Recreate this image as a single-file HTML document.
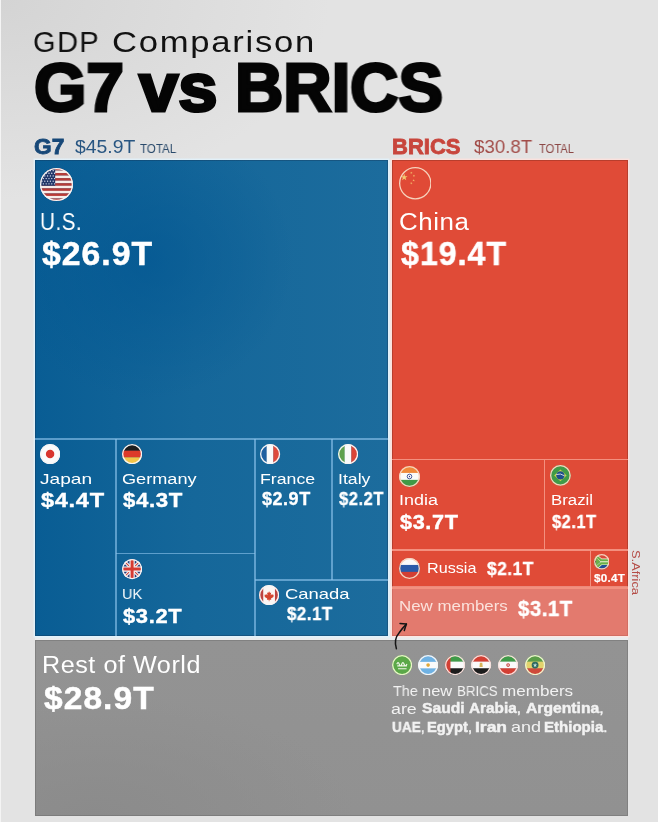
<!DOCTYPE html><html><head><meta charset="utf-8"><style>
html,body{margin:0;padding:0}
body{width:658px;height:822px;position:relative;overflow:hidden;background:#e2e2e2;font-family:"Liberation Sans",sans-serif}
.bg{position:absolute;left:0;top:0;width:658px;height:822px;background:radial-gradient(ellipse 330px 200px at 0 0,#d4d4d4,rgba(227,227,227,0)),#e3e3e3}
.r{position:absolute}
.t{position:absolute;white-space:nowrap;transform-origin:0 0;will-change:transform}
b{font-weight:700}
</style></head><body><div class="bg"></div>

<div class="r" style="left:0px;top:0px;width:1px;height:822px;background:#f4f4f4;"></div>
<div class="r" style="left:388px;top:160px;width:4px;height:476px;background:#eee;background:linear-gradient(90deg,#d6ecf8,#ececec 50%,#f9dcd8)"></div>
<div class="r" style="left:35px;top:636px;width:593px;height:4px;background:#eee;background:linear-gradient(180deg,#e2eef4,#ececec)"></div>
<div class="r" style="left:35px;top:160px;width:353px;height:476px;background:#1e66a0;background:radial-gradient(ellipse 150px 140px at 110px 100px,rgba(0,85,145,0.6),rgba(0,85,145,0)),linear-gradient(90deg,#095d94 0%,#15679a 45%,#1c6c9d 100%);box-shadow:inset 0 0 0 1px rgba(20,50,80,0.35),0 0 0 1.5px rgba(225,242,252,0.8)"></div>
<div class="r" style="left:392px;top:160px;width:236px;height:428px;background:#e04b37;box-shadow:inset 0 0 0 1px rgba(110,40,30,0.35),0 0 0 1.5px rgba(255,225,220,0.8)"></div>
<div class="r" style="left:392px;top:588px;width:236px;height:48px;background:#e37a6e;box-shadow:inset 0 0 0 1px rgba(150,60,50,0.2),0 0 0 1.5px rgba(255,230,225,0.8)"></div>
<div class="r" style="left:35px;top:640px;width:593px;height:176px;background:#8e8e8e;background:radial-gradient(ellipse 260px 120px at 60px 176px,#8b8b8b,rgba(146,146,146,0)),linear-gradient(180deg,#939393,#919191);box-shadow:inset 0 0 0 1px rgba(60,60,60,0.2)"></div>
<div class="r" style="left:35px;top:438.25px;width:353px;height:1.5px;background:rgba(140,195,235,0.62);"></div>
<div class="r" style="left:115.25px;top:439px;width:1.5px;height:197px;background:rgba(140,195,235,0.62);"></div>
<div class="r" style="left:254.25px;top:439px;width:1.5px;height:197px;background:rgba(140,195,235,0.62);"></div>
<div class="r" style="left:116px;top:552.75px;width:139px;height:1.5px;background:rgba(140,195,235,0.62);"></div>
<div class="r" style="left:331.25px;top:439px;width:1.5px;height:141px;background:rgba(140,195,235,0.62);"></div>
<div class="r" style="left:255px;top:579.25px;width:133px;height:1.5px;background:rgba(140,195,235,0.62);"></div>
<div class="r" style="left:392px;top:458.75px;width:236px;height:1.5px;background:#f3907f;"></div>
<div class="r" style="left:543.75px;top:459.5px;width:1.5px;height:90.5px;background:#f3907f;"></div>
<div class="r" style="left:392px;top:549.25px;width:236px;height:1.5px;background:#f3907f;"></div>
<div class="r" style="left:589.65px;top:550px;width:1.5px;height:38px;background:#f3907f;"></div>
<div class="r" style="left:392px;top:587.25px;width:236px;height:1.5px;background:#f3907f;"></div>
<svg style="position:absolute;left:39.90px;top:167.60px" width="33.00" height="33.00" viewBox="0 0 100 100"><defs><clipPath id="c1"><circle cx="50" cy="50" r="50"/></clipPath></defs><g clip-path="url(#c1)"><rect x="0" y="0.00" width="100" height="7.99" fill="#b93a35"/><rect x="0" y="7.69" width="100" height="7.99" fill="#f7ece8"/><rect x="0" y="15.38" width="100" height="7.99" fill="#b93a35"/><rect x="0" y="23.08" width="100" height="7.99" fill="#f7ece8"/><rect x="0" y="30.77" width="100" height="7.99" fill="#b93a35"/><rect x="0" y="38.46" width="100" height="7.99" fill="#f7ece8"/><rect x="0" y="46.15" width="100" height="7.99" fill="#b93a35"/><rect x="0" y="53.85" width="100" height="7.99" fill="#f7ece8"/><rect x="0" y="61.54" width="100" height="7.99" fill="#b93a35"/><rect x="0" y="69.23" width="100" height="7.99" fill="#f7ece8"/><rect x="0" y="76.92" width="100" height="7.99" fill="#b93a35"/><rect x="0" y="84.62" width="100" height="7.99" fill="#f7ece8"/><rect x="0" y="92.31" width="100" height="7.99" fill="#b93a35"/><rect x="0" y="0" width="46" height="53.8" fill="#22386a"/><circle cx="6.0" cy="8.0" r="2" fill="#e8eef8"/><circle cx="14.5" cy="8.0" r="2" fill="#e8eef8"/><circle cx="23.0" cy="8.0" r="2" fill="#e8eef8"/><circle cx="31.5" cy="8.0" r="2" fill="#e8eef8"/><circle cx="40.0" cy="8.0" r="2" fill="#e8eef8"/><circle cx="10.2" cy="16.0" r="2" fill="#e8eef8"/><circle cx="18.7" cy="16.0" r="2" fill="#e8eef8"/><circle cx="27.2" cy="16.0" r="2" fill="#e8eef8"/><circle cx="35.7" cy="16.0" r="2" fill="#e8eef8"/><circle cx="44.2" cy="16.0" r="2" fill="#e8eef8"/><circle cx="6.0" cy="24.0" r="2" fill="#e8eef8"/><circle cx="14.5" cy="24.0" r="2" fill="#e8eef8"/><circle cx="23.0" cy="24.0" r="2" fill="#e8eef8"/><circle cx="31.5" cy="24.0" r="2" fill="#e8eef8"/><circle cx="40.0" cy="24.0" r="2" fill="#e8eef8"/><circle cx="10.2" cy="32.0" r="2" fill="#e8eef8"/><circle cx="18.7" cy="32.0" r="2" fill="#e8eef8"/><circle cx="27.2" cy="32.0" r="2" fill="#e8eef8"/><circle cx="35.7" cy="32.0" r="2" fill="#e8eef8"/><circle cx="44.2" cy="32.0" r="2" fill="#e8eef8"/><circle cx="6.0" cy="40.0" r="2" fill="#e8eef8"/><circle cx="14.5" cy="40.0" r="2" fill="#e8eef8"/><circle cx="23.0" cy="40.0" r="2" fill="#e8eef8"/><circle cx="31.5" cy="40.0" r="2" fill="#e8eef8"/><circle cx="40.0" cy="40.0" r="2" fill="#e8eef8"/><circle cx="10.2" cy="48.0" r="2" fill="#e8eef8"/><circle cx="18.7" cy="48.0" r="2" fill="#e8eef8"/><circle cx="27.2" cy="48.0" r="2" fill="#e8eef8"/><circle cx="35.7" cy="48.0" r="2" fill="#e8eef8"/><circle cx="44.2" cy="48.0" r="2" fill="#e8eef8"/></g><circle cx="50" cy="50" r="48.03" fill="none" stroke="#f5f5f5" stroke-width="3.94"/></svg>
<svg style="position:absolute;left:398.75px;top:167.35px" width="32.50" height="32.50" viewBox="0 0 100 100"><defs><clipPath id="c2"><circle cx="50" cy="50" r="50"/></clipPath></defs><g clip-path="url(#c2)"><rect width="100" height="100" fill="#e04a36"/><polygon points="16.00,21.00 18.59,28.44 26.46,28.60 20.18,33.36 22.47,40.90 16.00,36.40 9.53,40.90 11.82,33.36 5.54,28.60 13.41,28.44" fill="#f2c870"/><polygon points="39.37,14.24 39.33,17.11 42.00,18.14 39.26,18.99 39.10,21.85 37.45,19.50 34.68,20.24 36.40,17.94 34.85,15.54 37.56,16.46" fill="#f2b868"/><polygon points="48.57,23.94 47.55,26.61 49.71,28.50 46.85,28.36 45.72,30.99 44.97,28.23 42.12,27.97 44.52,26.40 43.88,23.61 46.11,25.40" fill="#f2b868"/><polygon points="45.00,37.00 45.94,39.71 48.80,39.76 46.52,41.49 47.35,44.24 45.00,42.60 42.65,44.24 43.48,41.49 41.20,39.76 44.06,39.71" fill="#f2b868"/><polygon points="39.37,46.24 39.33,49.11 42.00,50.14 39.26,50.99 39.10,53.85 37.45,51.50 34.68,52.24 36.40,49.94 34.85,47.54 37.56,48.46" fill="#f2b868"/></g><circle cx="50" cy="50" r="48.00" fill="none" stroke="#f6d3bd" stroke-width="4.00"/></svg>
<svg style="position:absolute;left:40.10px;top:443.90px" width="20.20" height="20.20" viewBox="0 0 100 100"><defs><clipPath id="c3"><circle cx="50" cy="50" r="50"/></clipPath></defs><g clip-path="url(#c3)"><rect width="100" height="100" fill="#fbfbfb"/><circle cx="50" cy="50" r="21" fill="#d9362e"/></g><circle cx="50" cy="50" r="46.78" fill="none" stroke="#f5f5f5" stroke-width="6.44"/></svg>
<svg style="position:absolute;left:121.70px;top:443.50px" width="20.20" height="20.20" viewBox="0 0 100 100"><defs><clipPath id="c4"><circle cx="50" cy="50" r="50"/></clipPath></defs><g clip-path="url(#c4)"><rect width="100" height="34" fill="#1d1d1d"/><rect y="33" width="100" height="34" fill="#dc3a2a"/><rect y="66" width="100" height="34" fill="#f3c548"/></g><circle cx="50" cy="50" r="46.78" fill="none" stroke="#f5f5f5" stroke-width="6.44"/></svg>
<svg style="position:absolute;left:260.40px;top:443.50px" width="20.20" height="20.20" viewBox="0 0 100 100"><defs><clipPath id="c5"><circle cx="50" cy="50" r="50"/></clipPath></defs><g clip-path="url(#c5)"><rect width="34" height="100" fill="#1f5fa0"/><rect x="33" width="34" height="100" fill="#fafafa"/><rect x="66" width="34" height="100" fill="#de4a3c"/></g><circle cx="50" cy="50" r="46.78" fill="none" stroke="#f5f5f5" stroke-width="6.44"/></svg>
<svg style="position:absolute;left:338.30px;top:443.50px" width="20.20" height="20.20" viewBox="0 0 100 100"><defs><clipPath id="c6"><circle cx="50" cy="50" r="50"/></clipPath></defs><g clip-path="url(#c6)"><rect width="34" height="100" fill="#5fa14d"/><rect x="33" width="34" height="100" fill="#fafafa"/><rect x="66" width="34" height="100" fill="#d94537"/></g><circle cx="50" cy="50" r="46.78" fill="none" stroke="#f5f5f5" stroke-width="6.44"/></svg>
<svg style="position:absolute;left:121.90px;top:559.40px" width="20.20" height="20.20" viewBox="0 0 100 100"><defs><clipPath id="c7"><circle cx="50" cy="50" r="50"/></clipPath></defs><g clip-path="url(#c7)"><rect width="100" height="100" fill="#253a78"/><path d="M0 0L100 100M100 0L0 100" stroke="#f5f5f5" stroke-width="16"/><path d="M0 0L100 100M100 0L0 100" stroke="#cf3b36" stroke-width="5"/><path d="M50 0V100M0 50H100" stroke="#f7f7f7" stroke-width="26"/><path d="M50 0V100M0 50H100" stroke="#d63a32" stroke-width="15"/></g><circle cx="50" cy="50" r="46.78" fill="none" stroke="#f5f5f5" stroke-width="6.44"/></svg>
<svg style="position:absolute;left:258.90px;top:584.90px" width="20.20" height="20.20" viewBox="0 0 100 100"><defs><clipPath id="c8"><circle cx="50" cy="50" r="50"/></clipPath></defs><g clip-path="url(#c8)"><rect width="100" height="100" fill="#fbf6f4"/><rect width="21" height="100" fill="#bd4440"/><rect x="79" width="21" height="100" fill="#bd4440"/><path transform="translate(50 54) scale(0.78) translate(-50 -54)" d="M50 24L56 36L63 33L60 50L70 42L73 48L81 47L76 57L80 60L62 70L64 78H52V88H48V78H36L38 70L20 60L24 57L19 47L27 48L30 42L40 50L37 33L44 36Z" fill="#d4452f"/></g><circle cx="50" cy="50" r="46.78" fill="none" stroke="#f5f5f5" stroke-width="6.44"/></svg>
<svg style="position:absolute;left:398.50px;top:465.50px" width="21.00" height="21.00" viewBox="0 0 100 100"><defs><clipPath id="c9"><circle cx="50" cy="50" r="50"/></clipPath></defs><g clip-path="url(#c9)"><rect width="100" height="34" fill="#f08a3a"/><rect y="33" width="100" height="34" fill="#fbfbf8"/><rect y="66" width="100" height="34" fill="#3f9a46"/><circle cx="50" cy="50" r="11" fill="none" stroke="#2a3d8a" stroke-width="4"/><circle cx="50" cy="50" r="3" fill="#2a3d8a"/></g><circle cx="50" cy="50" r="46.90" fill="none" stroke="#f6d3bd" stroke-width="6.19"/></svg>
<svg style="position:absolute;left:550.20px;top:465.20px" width="20.80" height="20.80" viewBox="0 0 100 100"><defs><clipPath id="c10"><circle cx="50" cy="50" r="50"/></clipPath></defs><g clip-path="url(#c10)"><rect width="100" height="100" fill="#3f9b48"/><path d="M50 22L80 50L50 78L20 50Z" fill="#c9d24a"/><circle cx="50" cy="50" r="20" fill="#1e4e8c"/><path d="M30 46Q50 38 70 52" stroke="#f2f2f2" stroke-width="4" fill="none"/></g><circle cx="50" cy="50" r="46.88" fill="none" stroke="#f6d3bd" stroke-width="6.25"/></svg>
<svg style="position:absolute;left:398.50px;top:557.50px" width="21.00" height="21.00" viewBox="0 0 100 100"><defs><clipPath id="c11"><circle cx="50" cy="50" r="50"/></clipPath></defs><g clip-path="url(#c11)"><rect width="100" height="34" fill="#fafafa"/><rect y="33" width="100" height="34" fill="#2a5aa8"/><rect y="66" width="100" height="34" fill="#d33f33"/></g><circle cx="50" cy="50" r="46.90" fill="none" stroke="#f6d3bd" stroke-width="6.19"/></svg>
<svg style="position:absolute;left:593.70px;top:554.20px" width="15.60" height="15.60" viewBox="0 0 100 100"><defs><clipPath id="c12"><circle cx="50" cy="50" r="50"/></clipPath></defs><g clip-path="url(#c12)"><rect width="100" height="50" fill="#d8493a"/><rect y="50" width="100" height="50" fill="#1f4e98"/><path d="M0 0L45 40H100V60H45L0 100" fill="none" stroke="#eef4d8" stroke-width="22"/><path d="M0 0L45 40H100V60H45L0 100" fill="none" stroke="#6bb04a" stroke-width="14"/><path d="M0 10L40 50L0 90Z" fill="#6bb04a"/><path d="M0 34L14 50L0 66Z" fill="#1a1a1a"/></g><circle cx="50" cy="50" r="45.83" fill="none" stroke="#f6d3bd" stroke-width="8.33"/></svg>
<svg style="position:absolute;left:391.70px;top:654.50px" width="20.20" height="20.20" viewBox="0 0 100 100"><defs><clipPath id="c13"><circle cx="50" cy="50" r="50"/></clipPath></defs><g clip-path="url(#c13)"><rect width="100" height="100" fill="#5aa848"/><path d="M24 46Q30 30 36 46T48 46T60 46T74 44M26 54H74" stroke="#eef5e6" stroke-width="6" fill="none"/><path d="M30 68H72" stroke="#eef5e6" stroke-width="5"/></g><circle cx="50" cy="50" r="46.78" fill="none" stroke="#e9f5c8" stroke-width="6.44"/></svg>
<svg style="position:absolute;left:418.20px;top:654.50px" width="20.20" height="20.20" viewBox="0 0 100 100"><defs><clipPath id="c14"><circle cx="50" cy="50" r="50"/></clipPath></defs><g clip-path="url(#c14)"><rect width="100" height="100" fill="#6fb2e4"/><rect y="34" width="100" height="32" fill="#fafafa"/><circle cx="50" cy="50" r="9" fill="#e0a83a"/></g><circle cx="50" cy="50" r="46.78" fill="none" stroke="#f5f5f5" stroke-width="6.44"/></svg>
<svg style="position:absolute;left:444.90px;top:654.50px" width="20.20" height="20.20" viewBox="0 0 100 100"><defs><clipPath id="c15"><circle cx="50" cy="50" r="50"/></clipPath></defs><g clip-path="url(#c15)"><rect width="100" height="34" fill="#3f9b48"/><rect y="33" width="100" height="34" fill="#fafafa"/><rect y="66" width="100" height="34" fill="#1c1c1c"/><rect width="27" height="100" fill="#d33f33"/></g><circle cx="50" cy="50" r="46.78" fill="none" stroke="#f5e0dc" stroke-width="6.44"/></svg>
<svg style="position:absolute;left:471.40px;top:654.50px" width="20.20" height="20.20" viewBox="0 0 100 100"><defs><clipPath id="c16"><circle cx="50" cy="50" r="50"/></clipPath></defs><g clip-path="url(#c16)"><rect width="100" height="34" fill="#d33f33"/><rect y="33" width="100" height="34" fill="#fafafa"/><rect y="66" width="100" height="34" fill="#1c1c1c"/><path d="M44 38H56L58 60H42Z" fill="#d7b45a"/></g><circle cx="50" cy="50" r="46.78" fill="none" stroke="#f5e0dc" stroke-width="6.44"/></svg>
<svg style="position:absolute;left:497.90px;top:654.50px" width="20.20" height="20.20" viewBox="0 0 100 100"><defs><clipPath id="c17"><circle cx="50" cy="50" r="50"/></clipPath></defs><g clip-path="url(#c17)"><rect width="100" height="34" fill="#3f9b48"/><rect y="33" width="100" height="34" fill="#fafafa"/><rect y="66" width="100" height="34" fill="#d33f33"/><circle cx="50" cy="50" r="9" fill="#c8403a"/><circle cx="50" cy="50" r="4" fill="#fafafa"/></g><circle cx="50" cy="50" r="46.78" fill="none" stroke="#f8e0dc" stroke-width="6.44"/></svg>
<svg style="position:absolute;left:524.90px;top:654.50px" width="20.20" height="20.20" viewBox="0 0 100 100"><defs><clipPath id="c18"><circle cx="50" cy="50" r="50"/></clipPath></defs><g clip-path="url(#c18)"><rect width="100" height="34" fill="#5a9d48"/><rect y="33" width="100" height="34" fill="#e2d36c"/><rect y="66" width="100" height="34" fill="#cf4a3a"/><circle cx="50" cy="50" r="17" fill="#2f6a62"/><polygon points="50.00,40.00 52.59,47.44 60.46,47.60 54.18,52.36 56.47,59.90 50.00,55.40 43.53,59.90 45.82,52.36 39.54,47.60 47.41,47.44" fill="#c8e6e0"/></g><circle cx="50" cy="50" r="46.78" fill="none" stroke="#eef5d0" stroke-width="6.44"/></svg>
<div class="t" style="left:33.07px;top:12.00px;font-size:30.088px;line-height:60px;font-weight:400;color:#121212;letter-spacing:1.5px;transform:scaleX(0.9646)">GDP</div>
<div class="t" style="left:111.60px;top:12.00px;font-size:30.088px;line-height:60px;font-weight:400;color:#121212;letter-spacing:1.5px;transform:scaleX(1.1517)">Comparison</div>
<div class="t" style="left:33.81px;top:19.00px;font-size:68.315px;line-height:136px;font-weight:700;color:#050505;-webkit-text-stroke:3.0px #050505;letter-spacing:0px;transform:scaleX(0.9875)">G7</div>
<div class="t" style="left:138.64px;top:19.00px;font-size:68.315px;line-height:136px;font-weight:700;color:#050505;-webkit-text-stroke:3.0px #050505;letter-spacing:0px;transform:scaleX(1.0355)">vs</div>
<div class="t" style="left:234.96px;top:19.00px;font-size:68.315px;line-height:136px;font-weight:700;color:#050505;-webkit-text-stroke:3.0px #050505;letter-spacing:0px;transform:scaleX(0.9788)">BRICS</div>
<div class="t" style="left:33.57px;top:125.10px;font-size:22.093px;line-height:44px;font-weight:700;color:#174878;-webkit-text-stroke:0.8px #174878;letter-spacing:0px;transform:scaleX(1.0286)">G7</div>
<div class="t" style="left:75.10px;top:128.00px;font-size:18.896px;line-height:37px;font-weight:400;color:#285682;letter-spacing:0px;transform:scaleX(1.0259)">$45.9T</div>
<div class="t" style="left:140.00px;top:137.30px;font-size:12.355px;line-height:24px;font-weight:400;color:#2a4a6b;letter-spacing:0px;transform:scaleX(0.9368)">TOTAL</div>
<div class="t" style="left:391.88px;top:125.60px;font-size:21.512px;line-height:43px;font-weight:700;color:#c8453c;-webkit-text-stroke:0.8px #c8453c;letter-spacing:0px;transform:scaleX(1.0246)">BRICS</div>
<div class="t" style="left:474.00px;top:128.00px;font-size:18.896px;line-height:37px;font-weight:400;color:#a24c48;letter-spacing:0px;transform:scaleX(0.9897)">$30.8T</div>
<div class="t" style="left:539.00px;top:137.30px;font-size:12.355px;line-height:24px;font-weight:400;color:#8c4846;letter-spacing:0px;transform:scaleX(0.9053)">TOTAL</div>
<div class="t" style="left:40.10px;top:197.80px;font-size:24.419px;line-height:48px;font-weight:400;color:#ffffff;letter-spacing:0.5px;transform:scaleX(0.8489)">U.S.</div>
<div class="t" style="left:41.80px;top:221.25px;font-size:32.995px;line-height:65px;font-weight:700;color:#ffffff;-webkit-text-stroke:0.5px #ffffff;letter-spacing:1.0px;transform:scaleX(1.0222)">$26.9T</div>
<div class="t" style="left:399.42px;top:197.80px;font-size:23.983px;line-height:47px;font-weight:400;color:#ffffff;letter-spacing:0.5px;transform:scaleX(1.0812)">China</div>
<div class="t" style="left:400.50px;top:221.05px;font-size:32.704px;line-height:65px;font-weight:700;color:#ffffff;-webkit-text-stroke:0.5px #ffffff;letter-spacing:1.0px;transform:scaleX(0.9841)">$19.4T</div>
<div class="t" style="left:39.92px;top:464.10px;font-size:14.971px;line-height:29px;font-weight:400;color:#ffffff;letter-spacing:0px;transform:scaleX(1.2769)">Japan</div>
<div class="t" style="left:41.00px;top:480.20px;font-size:20.349px;line-height:40px;font-weight:700;color:#ffffff;-webkit-text-stroke:0.4px #ffffff;letter-spacing:0.6px;transform:scaleX(1.1600)">$4.4T</div>
<div class="t" style="left:121.58px;top:464.80px;font-size:14.826px;line-height:29px;font-weight:400;color:#ffffff;letter-spacing:0px;transform:scaleX(1.2233)">Germany</div>
<div class="t" style="left:122.80px;top:480.20px;font-size:20.349px;line-height:40px;font-weight:700;color:#ffffff;-webkit-text-stroke:0.4px #ffffff;letter-spacing:0.6px;transform:scaleX(1.0927)">$4.3T</div>
<div class="t" style="left:260.29px;top:464.90px;font-size:14.680px;line-height:29px;font-weight:400;color:#ffffff;letter-spacing:0px;transform:scaleX(1.2068)">France</div>
<div class="t" style="left:261.50px;top:480.55px;font-size:18.024px;line-height:36px;font-weight:700;color:#ffffff;-webkit-text-stroke:0.3px #ffffff;letter-spacing:0.5px;transform:scaleX(1.0021)">$2.9T</div>
<div class="t" style="left:337.70px;top:464.90px;font-size:14.680px;line-height:29px;font-weight:400;color:#ffffff;letter-spacing:0px;transform:scaleX(1.2038)">Italy</div>
<div class="t" style="left:338.90px;top:480.55px;font-size:18.024px;line-height:36px;font-weight:700;color:#ffffff;-webkit-text-stroke:0.3px #ffffff;letter-spacing:0.5px;transform:scaleX(0.9271)">$2.2T</div>
<div class="t" style="left:121.86px;top:578.40px;font-size:15.553px;line-height:31px;font-weight:400;color:#ffffff;letter-spacing:0px;transform:scaleX(0.9350)">UK</div>
<div class="t" style="left:122.80px;top:595.70px;font-size:20.349px;line-height:40px;font-weight:700;color:#ffffff;-webkit-text-stroke:0.4px #ffffff;letter-spacing:0.6px;transform:scaleX(1.0782)">$3.2T</div>
<div class="t" style="left:285.07px;top:578.80px;font-size:14.971px;line-height:29px;font-weight:400;color:#ffffff;letter-spacing:0px;transform:scaleX(1.2294)">Canada</div>
<div class="t" style="left:287.30px;top:597.25px;font-size:17.733px;line-height:35px;font-weight:700;color:#ffffff;-webkit-text-stroke:0.3px #ffffff;letter-spacing:0.5px;transform:scaleX(0.9553)">$2.1T</div>
<div class="t" style="left:398.82px;top:484.50px;font-size:15.262px;line-height:30px;font-weight:400;color:#ffffff;letter-spacing:0px;transform:scaleX(1.1781)">India</div>
<div class="t" style="left:400.00px;top:500.80px;font-size:20.640px;line-height:41px;font-weight:700;color:#ffffff;-webkit-text-stroke:0.4px #ffffff;letter-spacing:0.6px;transform:scaleX(1.0509)">$3.7T</div>
<div class="t" style="left:550.91px;top:484.70px;font-size:15.407px;line-height:30px;font-weight:400;color:#ffffff;letter-spacing:0px;transform:scaleX(1.0917)">Brazil</div>
<div class="t" style="left:552.00px;top:502.85px;font-size:19.041px;line-height:38px;font-weight:700;color:#ffffff;-webkit-text-stroke:0.3px #ffffff;letter-spacing:0.5px;transform:scaleX(0.8706)">$2.1T</div>
<div class="t" style="left:426.62px;top:552.80px;font-size:14.971px;line-height:29px;font-weight:400;color:#ffffff;letter-spacing:0px;transform:scaleX(1.0800)">Russia</div>
<div class="t" style="left:487.30px;top:552.35px;font-size:17.878px;line-height:35px;font-weight:700;color:#ffffff;-webkit-text-stroke:0.3px #ffffff;letter-spacing:0.5px;transform:scaleX(0.9729)">$2.1T</div>
<div class="t" style="left:594.00px;top:566.30px;font-size:11.628px;line-height:23px;font-weight:700;color:#ffffff;-webkit-text-stroke:0.2px #ffffff;letter-spacing:0.3px;transform:scaleX(1.0032)">$0.4T</div>
<div class="t" style="left:399.26px;top:591.80px;font-size:14.826px;line-height:29px;font-weight:400;color:#fbe2dc;letter-spacing:0px;transform:scaleX(1.1394)">New members</div>
<div class="t" style="left:518.10px;top:586.40px;font-size:22.675px;line-height:45px;font-weight:700;color:#ffffff;-webkit-text-stroke:0.4px #ffffff;letter-spacing:0.6px;transform:scaleX(0.8983)">$3.1T</div>
<div class="t" style="left:41.76px;top:641.80px;font-size:23.547px;line-height:47px;font-weight:400;color:#ffffff;letter-spacing:0.5px;transform:scaleX(1.0697)">Rest of World</div>
<div class="t" style="left:43.90px;top:666.55px;font-size:31.687px;line-height:63px;font-weight:700;color:#ffffff;-webkit-text-stroke:0.5px #ffffff;letter-spacing:1.0px;transform:scaleX(1.0587)">$28.9T</div>
<div class="t" style="left:393.20px;top:675.90px;font-size:15.262px;line-height:30px;font-weight:400;color:#f2f2f2;letter-spacing:0px;transform:scaleX(0.9462)">The</div>
<div class="t" style="left:422.22px;top:675.90px;font-size:15.262px;line-height:30px;font-weight:400;color:#f2f2f2;letter-spacing:0px;transform:scaleX(1.0815)">new</div>
<div class="t" style="left:457.13px;top:675.90px;font-size:15.262px;line-height:30px;font-weight:400;color:#f2f2f2;letter-spacing:0px;transform:scaleX(0.8711)">BRICS</div>
<div class="t" style="left:502.48px;top:675.90px;font-size:15.262px;line-height:30px;font-weight:400;color:#f2f2f2;letter-spacing:0px;transform:scaleX(1.1194)">members</div>
<div class="t" style="left:391.33px;top:693.60px;font-size:15.262px;line-height:30px;font-weight:400;color:#f2f2f2;letter-spacing:0px;transform:scaleX(1.1700)">are</div>
<div class="t" style="left:421.80px;top:694.38px;font-size:14.608px;line-height:29px;font-weight:700;color:#f2f2f2;-webkit-text-stroke:0.45px #f2f2f2;letter-spacing:0px;transform:scaleX(1.0718)">Saudi</div>
<div class="t" style="left:468.60px;top:694.38px;font-size:14.608px;line-height:29px;font-weight:700;color:#f2f2f2;-webkit-text-stroke:0.45px #f2f2f2;letter-spacing:0px;transform:scaleX(1.0490)">Arabia<span style="font-weight:400">,</span></div>
<div class="t" style="left:525.90px;top:694.38px;font-size:14.608px;line-height:29px;font-weight:700;color:#f2f2f2;-webkit-text-stroke:0.45px #f2f2f2;letter-spacing:0px;transform:scaleX(1.0761)">Argentina<span style="font-weight:400">,</span></div>
<div class="t" style="left:391.56px;top:712.57px;font-size:14.608px;line-height:29px;font-weight:700;color:#f2f2f2;-webkit-text-stroke:0.45px #f2f2f2;letter-spacing:0px;transform:scaleX(0.9364)">UAE<span style="font-weight:400">,</span></div>
<div class="t" style="left:427.49px;top:712.57px;font-size:14.608px;line-height:29px;font-weight:700;color:#f2f2f2;-webkit-text-stroke:0.45px #f2f2f2;letter-spacing:0px;transform:scaleX(1.0116)">Egypt<span style="font-weight:400">,</span></div>
<div class="t" style="left:474.80px;top:712.57px;font-size:14.608px;line-height:29px;font-weight:700;color:#f2f2f2;-webkit-text-stroke:0.45px #f2f2f2;letter-spacing:0px;transform:scaleX(1.1960)">Iran</div>
<div class="t" style="left:510.52px;top:711.80px;font-size:15.262px;line-height:30px;font-weight:400;color:#f2f2f2;letter-spacing:0px;transform:scaleX(1.1833)">and</div>
<div class="t" style="left:544.17px;top:712.57px;font-size:14.608px;line-height:29px;font-weight:700;color:#f2f2f2;-webkit-text-stroke:0.45px #f2f2f2;letter-spacing:0px;transform:scaleX(1.0300)">Ethiopia<span style="font-weight:400">.</span></div>
<div class="t" style="left:629px;top:550px;font-size:10.8px;line-height:14px;color:#b44c46;writing-mode:vertical-rl;transform:scaleY(1.19)">S.Africa</div>
<svg class="r" style="left:385px;top:615px" width="30" height="40" viewBox="0 0 30 40"><path d="M11.4 33.7C9.6 28 10.5 22 14 18C16 15 18.5 12 21.4 9.1" fill="none" stroke="#151515" stroke-width="1.5" stroke-linecap="round"/><path d="M15 8.4L21.4 9.1L19.3 15.5" fill="none" stroke="#151515" stroke-width="1.5" stroke-linecap="round" stroke-linejoin="round"/></svg>
</body></html>
